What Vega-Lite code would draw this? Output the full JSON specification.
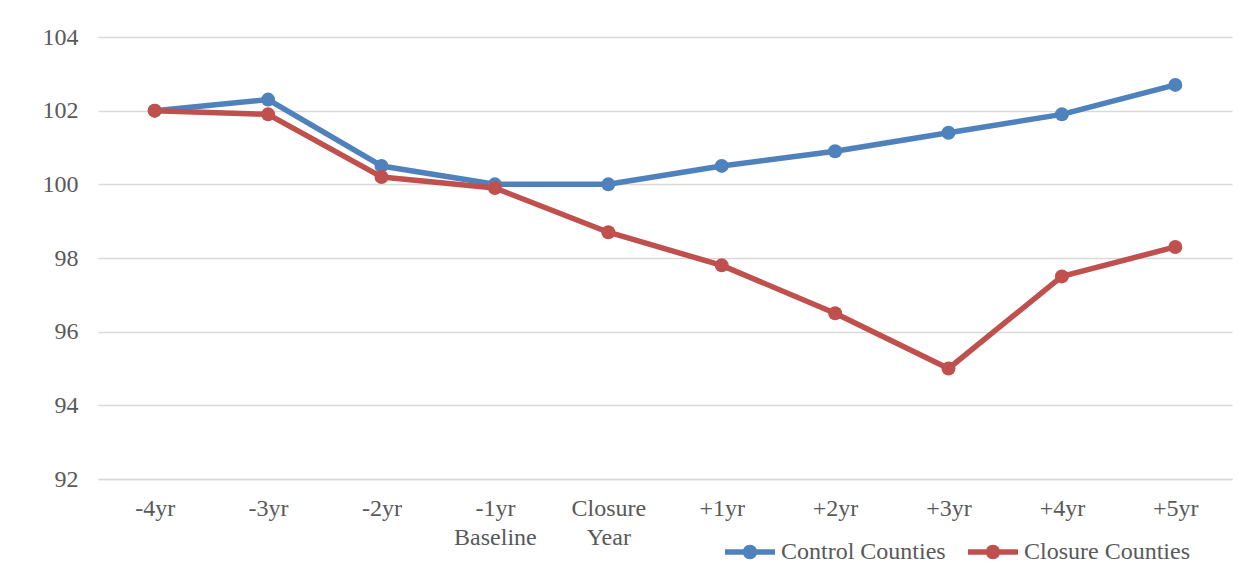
{
  "$schema": "https://vega.github.io/schema/vega-lite/v6.json",
  "autosize": "none",
  "width": 1134,
  "height": 442,
  "padding": {"left": 98, "top": 37, "right": 18, "bottom": 101},
  "background": "white",
  "config": {
    "view": {"stroke": null},
    "font": "Liberation Serif",
    "axis": {"labelFont": "Liberation Serif"},
    "legend": {"labelFont": "Liberation Serif"}
  },
  "data": {
    "values": [
      {"period": "-4yr", "series": "Control Counties", "value": 102.0},
      {"period": "-3yr", "series": "Control Counties", "value": 102.3},
      {"period": "-2yr", "series": "Control Counties", "value": 100.5},
      {"period": "-1yr Baseline", "series": "Control Counties", "value": 100.0},
      {"period": "Closure Year", "series": "Control Counties", "value": 100.0},
      {"period": "+1yr", "series": "Control Counties", "value": 100.5},
      {"period": "+2yr", "series": "Control Counties", "value": 100.9},
      {"period": "+3yr", "series": "Control Counties", "value": 101.4},
      {"period": "+4yr", "series": "Control Counties", "value": 101.9},
      {"period": "+5yr", "series": "Control Counties", "value": 102.7},
      {"period": "-4yr", "series": "Closure Counties", "value": 102.0},
      {"period": "-3yr", "series": "Closure Counties", "value": 101.9},
      {"period": "-2yr", "series": "Closure Counties", "value": 100.2},
      {"period": "-1yr Baseline", "series": "Closure Counties", "value": 99.9},
      {"period": "Closure Year", "series": "Closure Counties", "value": 98.7},
      {"period": "+1yr", "series": "Closure Counties", "value": 97.8},
      {"period": "+2yr", "series": "Closure Counties", "value": 96.5},
      {"period": "+3yr", "series": "Closure Counties", "value": 95.0},
      {"period": "+4yr", "series": "Closure Counties", "value": 97.5},
      {"period": "+5yr", "series": "Closure Counties", "value": 98.3}
    ]
  },
  "encoding": {
    "x": {
      "field": "period",
      "type": "ordinal",
      "sort": null,
      "scale": {"type": "point", "padding": 0.5},
      "axis": {
        "title": null,
        "labelAngle": 0,
        "labelFont": "Liberation Serif",
        "labelFontSize": 24,
        "labelColor": "#595959",
        "labelPadding": 17,
        "labelLineHeight": 29,
        "labelBaseline": "top",
        "ticks": false,
        "domain": true,
        "domainColor": "#d9d9d9",
        "domainWidth": 1.5,
        "grid": false,
        "labelExpr": "datum.value == '-1yr Baseline' ? ['-1yr', 'Baseline'] : datum.value == 'Closure Year' ? ['Closure', 'Year'] : datum.value"
      }
    },
    "y": {
      "field": "value",
      "type": "quantitative",
      "scale": {"domain": [92, 104], "zero": false, "nice": false},
      "axis": {
        "title": null,
        "values": [92, 94, 96, 98, 100, 102, 104],
        "labelFont": "Liberation Serif",
        "labelFontSize": 24,
        "labelColor": "#595959",
        "labelPadding": 20,
        "ticks": false,
        "domain": false,
        "grid": true,
        "gridColor": "#d9d9d9",
        "gridWidth": 1.5
      }
    },
    "color": {
      "field": "series",
      "type": "nominal",
      "sort": ["Control Counties", "Closure Counties"],
      "scale": {"domain": ["Control Counties", "Closure Counties"], "range": ["#4F81BD", "#C0504D"]},
      "legend": {
        "title": null,
        "orient": "none",
        "direction": "horizontal",
        "legendX": 627,
        "legendY": 490,
        "symbolType": "M-1,-0.11 H-0.25 V0.11 H-1 Z M0.25,-0.11 H1 V0.11 H0.25 Z M0.29,0 A0.29,0.29 0 1,1 -0.29,0 A0.29,0.29 0 1,1 0.29,0 Z",
        "symbolSize": 2500,
        "symbolStrokeWidth": 0,
        "symbolOpacity": 1,
        "labelFont": "Liberation Serif",
        "labelFontSize": 24,
        "labelColor": "#595959",
        "labelOffset": 6,
        "columnPadding": 22,
        "labelLimit": 300
      }
    }
  },
  "layer": [
    {
      "mark": {"type": "line", "strokeWidth": 5.5, "strokeJoin": "round"}
    },
    {
      "mark": {"type": "point", "filled": true, "opacity": 1, "size": 196, "shape": "circle"},
      "encoding": {
        "fill": {"field": "series", "type": "nominal", "scale": {"domain": ["Control Counties", "Closure Counties"], "range": ["#4F81BD", "#C0504D"]}, "legend": null}
      }
    }
  ]
}
